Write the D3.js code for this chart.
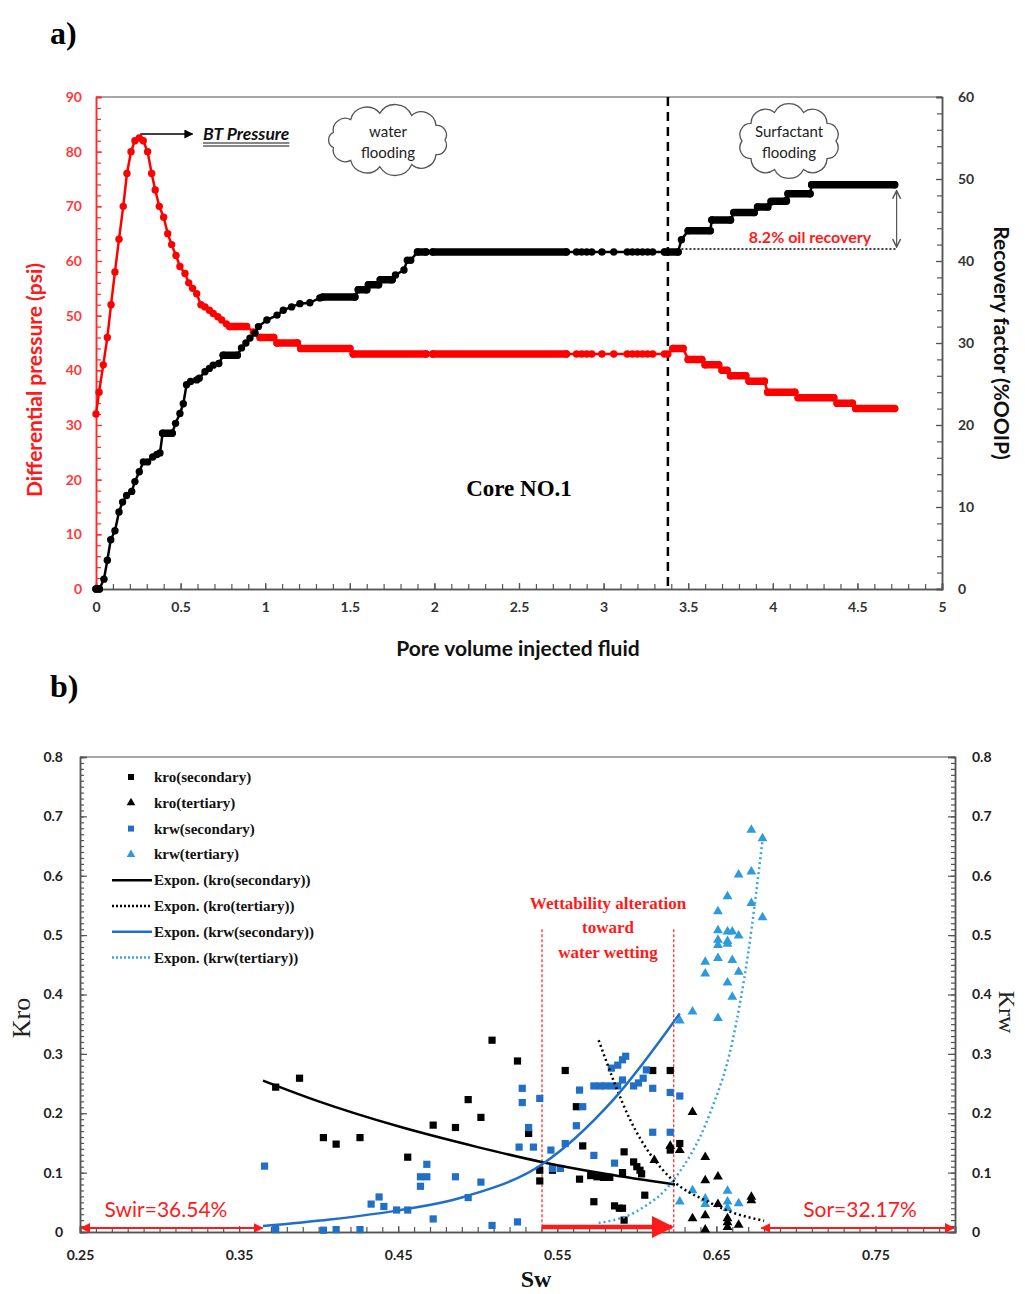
<!DOCTYPE html>
<html lang="en">
<head>
<meta charset="utf-8" />
<title>Core NO.1 flooding and relative permeability</title>
<script src="https://cdn.jsdelivr.net/npm/d3@7"></script>
<style>
body { margin: 0; background: white; }
.tick text { font-family: Lato, "Open Sans", sans-serif; font-weight: bold; font-size: 14px; }
</style>
</head>
<body>
<div id="chart"></div>
<script>

// ---------------- data, panel a) ----------------
// differential pressure (psi) vs pore volume injected
var dpPoints = [[0,32],[0.018,36],[0.043,41],[0.067,46],[0.089,52],[0.112,58],[0.136,64],[0.161,70],[0.183,76],[0.207,80],
  [0.23,82],[0.256,82.5],[0.279,82],[0.305,80],[0.329,76],[0.35,73],[0.374,70],[0.4,68],[0.424,65],[0.447,63],
  [0.473,61],[0.496,59],[0.526,57.7],[0.548,56],[0.571,55],[0.595,54],[0.62,52],[0.644,51.6],[0.67,51],[0.693,50.4],
  [0.72,49.8],[0.743,49.2],[0.77,48.5],[0.79,48],[0.89,48],[0.93,47],[0.97,46],[1.05,46],[1.07,45],[1.19,45],
  [1.21,44],[1.5,44],[1.52,43],[1.95,43],[1.99,43],[2.78,43],[2.84,43],[2.87,43],[2.9,43],[2.93,43],
  [2.99,43],[3.06,43],[3.14,43],[3.17,43],[3.2,43],[3.23,43],[3.26,43],[3.29,43],[3.36,43],[3.38,43],
  [3.41,44],[3.47,44],[3.5,42],[3.58,42],[3.6,41],[3.68,41],[3.7,40],[3.73,40],[3.75,39],[3.84,39],
  [3.86,38],[3.95,38],[3.97,36],[4.13,36],[4.15,35],[4.36,35],[4.38,34],[4.47,34],[4.49,33],[4.72,33]];
// runs of closely spaced readings [pv from, pv to, psi]
var dpRuns = [[0.79,0.89,48],[0.97,1.05,46],[1.07,1.19,45],[1.21,1.5,44],[1.52,1.95,43],[1.99,2.78,43],
  [3.41,3.47,44],[3.5,3.58,42],[3.6,3.68,41],[3.7,3.73,40],[3.75,3.84,39],[3.86,3.95,38],[3.97,4.13,36],
  [4.15,4.36,35],[4.38,4.47,34],[4.49,4.72,33]];

// recovery factor (%OOIP) vs pore volume injected
var rfPoints = [[0,0],[0.02,0],[0.047,1.2],[0.067,3.5],[0.087,6],[0.112,7.1],[0.136,9.4],[0.157,10.6],[0.181,11.4],[0.211,11.9],
  [0.23,13.1],[0.256,14.3],[0.28,15.5],[0.305,15.5],[0.335,16.1],[0.36,16.4],[0.378,16.6],[0.394,19],[0.45,19],[0.47,20.2],
  [0.496,21.4],[0.516,22.6],[0.535,24.9],[0.559,25.3],[0.595,25.5],[0.61,25.7],[0.644,26.5],[0.67,26.9],[0.693,27.3],[0.726,27.5],
  [0.752,28.5],[0.835,28.5],[0.86,29.4],[0.886,30],[0.91,30.6],[0.94,31.2],[0.96,32],[1.01,32.8],[1.07,33.4],[1.107,34],
  [1.156,34.4],[1.205,34.8],[1.264,34.9],[1.323,35.5],[1.34,35.6],[1.53,35.6],[1.55,36.5],[1.6,36.5],[1.61,37.1],[1.67,37.1],
  [1.68,37.7],[1.75,37.7],[1.77,38.3],[1.82,38.9],[1.84,40.1],[1.86,40.1],[1.9,41.1],[1.95,41.1],[1.99,41.1],[2.78,41.1],
  [2.84,41.1],[2.87,41.1],[2.9,41.1],[2.93,41.1],[2.99,41.1],[3.06,41.1],[3.14,41.1],[3.17,41.1],[3.2,41.1],[3.23,41.1],
  [3.26,41.1],[3.29,41.1],[3.36,41.1],[3.44,41.1],[3.46,42.6],[3.5,43.7],[3.63,43.7],[3.64,45],[3.75,45],[3.77,45.9],
  [3.89,45.9],[3.91,46.6],[3.97,46.6],[3.99,47.2],[4.08,47.4],[4.09,48.2],[4.22,48.2],[4.23,49.3],[4.72,49.3]];
var rfRuns = [[0,0.02,0],[0.394,0.45,19],[0.752,0.835,28.5],[1.34,1.53,35.6],[1.55,1.6,36.5],[1.61,1.67,37.1],
  [1.68,1.75,37.7],[1.9,1.95,41.1],[1.99,2.78,41.1],[3.36,3.44,41.1],[3.5,3.63,43.7],[3.64,3.75,45],[3.77,3.89,45.9],
  [3.91,3.97,46.6],[3.99,4.08,47.3],[4.09,4.22,48.2],[4.23,4.72,49.3]];

var pvTicks = [0,0.5,1,1.5,2,2.5,3,3.5,4,4.5,5];
var dpTicks = [0,10,20,30,40,50,60,70,80,90];
var rfTicks = [0,10,20,30,40,50,60];
var surfactantPV = 3.38;     // start of surfactant flooding
var rfBeforeSurf = 41.1, rfFinal = 49.3, pvFinal = 4.72;

// ---------------- data, panel b) ----------------
var kroSec = [[0.373,0.244],[0.388,0.259],[0.403,0.159],[0.411,0.148],[0.426,0.159],[0.456,0.126],[0.472,0.180],[0.486,0.176],
  [0.494,0.223],[0.502,0.193],[0.509,0.323],[0.525,0.288],[0.532,0.166],[0.539,0.104],[0.539,0.086],[0.547,0.104],[0.555,0.272],
  [0.562,0.211],[0.566,0.145],[0.564,0.089],[0.573,0.051],[0.571,0.095],[0.575,0.093],[0.579,0.092],[0.583,0.092],[0.586,0.044],
  [0.589,0.040],[0.591,0.040],[0.592,0.020],[0.591,0.100],[0.592,0.135],[0.598,0.118],[0.600,0.110],[0.602,0.104],[0.603,0.098],
  [0.605,0.062],[0.610,0.272],[0.621,0.272],[0.621,0.138],[0.627,0.149]];
var kroTer = [[0.611,0.121],[0.621,0.145],[0.627,0.138],[0.635,0.202],[0.635,0.023],[0.643,0.126],[0.643,0.087],[0.643,0.028],
  [0.643,0.004],[0.651,0.093],[0.651,0.047],[0.657,0.023],[0.657,0.016],[0.657,0.008],[0.664,0.012],[0.672,0.059],[0.672,0.053]];
var krwSec = [[0.366,0.111],[0.373,0.004],[0.403,0.003],[0.411,0.004],[0.426,0.004],[0.433,0.047],[0.438,0.059],[0.441,0.043],
  [0.449,0.037],[0.456,0.037],[0.464,0.093],[0.468,0.093],[0.468,0.114],[0.464,0.077],[0.472,0.022],[0.486,0.093],[0.494,0.058],
  [0.502,0.084],[0.509,0.011],[0.525,0.017],[0.526,0.143],[0.528,0.242],[0.528,0.218],[0.532,0.176],[0.535,0.143],[0.539,0.225],
  [0.546,0.138],[0.547,0.107],[0.552,0.107],[0.555,0.149],[0.562,0.179],[0.564,0.239],[0.566,0.211],[0.573,0.129],[0.573,0.246],
  [0.577,0.246],[0.580,0.246],[0.584,0.246],[0.588,0.246],[0.584,0.276],[0.588,0.281],[0.591,0.290],[0.593,0.296],[0.591,0.256],
  [0.586,0.116],[0.598,0.246],[0.601,0.251],[0.604,0.259],[0.606,0.273],[0.610,0.242],[0.610,0.168],[0.621,0.235],[0.621,0.168],
  [0.627,0.229]];
var krwTer = [[0.672,0.677],[0.679,0.663],[0.664,0.602],[0.672,0.607],[0.657,0.565],[0.651,0.540],[0.672,0.554],[0.679,0.530],
  [0.651,0.508],[0.657,0.506],[0.660,0.506],[0.651,0.492],[0.651,0.483],[0.657,0.490],[0.657,0.485],[0.664,0.499],[0.643,0.455],
  [0.651,0.461],[0.660,0.458],[0.643,0.435],[0.664,0.438],[0.657,0.420],[0.660,0.396],[0.635,0.371],[0.627,0.356],[0.651,0.360],
  [0.635,0.070],[0.627,0.051],[0.643,0.056],[0.643,0.047],[0.657,0.069],[0.657,0.051],[0.657,0.040],[0.664,0.048]];

// exponential trend lines
var kroSecTrend = [[0.365,0.255],[0.40,0.220],[0.45,0.178],[0.50,0.143],[0.54,0.118],[0.58,0.098],[0.624,0.080]];
var kroTerTrend = [[0.576,0.323],[0.596,0.188],[0.623,0.086],[0.644,0.052],[0.66,0.033],[0.68,0.019]];
var krwSecTrend = [[0.365,0.010],[0.407,0.021],[0.449,0.036],[0.491,0.059],[0.541,0.115],[0.585,0.222],[0.627,0.368]];
var krwTerTrend = [[0.576,0.015],[0.60,0.035],[0.623,0.087],[0.646,0.20],[0.66,0.32],[0.67,0.47],[0.679,0.66]];

var swTicks = [0.25,0.35,0.45,0.55,0.65,0.75];
var kTicks = [0,0.1,0.2,0.3,0.4,0.5,0.6,0.7,0.8];
var swir = 0.3654, sor = 0.3217;
var wetFrom = 0.5404, wetTo = 0.6232;

var legendNames = ["kro(secondary)","kro(tertiary)","krw(secondary)","krw(tertiary)",
  "Expon. (kro(secondary))","Expon. (kro(tertiary))","Expon. (krw(secondary))","Expon. (krw(tertiary))"];

// ---------------- drawing ----------------
var svg = d3.select("#chart").append("svg").attr("width", 1025).attr("height", 1294)
  .style("font-family", "Lato, 'Open Sans', sans-serif");
var fmt = d3.format("~g");

var defs = svg.append("defs");
function marker(id, color, size, open) {
  var m = defs.append("marker").attr("id", id).attr("viewBox", "0 0 10 10")
    .attr("refX", 9).attr("refY", 5).attr("markerUnits", "userSpaceOnUse")
    .attr("markerWidth", size).attr("markerHeight", size).attr("orient", "auto-start-reverse");
  if (open) m.append("path").attr("d", "M1,1 L9,5 L1,9").attr("fill", "none").attr("stroke", color).attr("stroke-width", 1.5);
  else m.append("path").attr("d", "M0,0 L10,5 L0,10 Z").attr("fill", color);
}
marker("arrBlack", "#000", 9);
marker("arrGray", "#555", 10, true);
marker("arrRed", "#ff1a1a", 10);
marker("arrRedBig", "#ff1a1a", 22);

function styleAxis(g, color, labelColor) {
  g.select(".domain").attr("stroke", color).attr("stroke-width", 1.5);
  g.selectAll(".tick line").attr("stroke", color).attr("stroke-width", 1.2);
  g.selectAll(".tick text").attr("fill", labelColor);
}

function cloud(g, cx, cy, rx, ry, n) {
  var pts = d3.range(n).map(function(i) {
    var a = i / n * 2 * Math.PI;
    return [cx + rx * Math.cos(a), cy + ry * Math.sin(a)];
  });
  var p = "M" + pts[0];
  pts.forEach(function(pt, i) {
    var q = pts[(i + 1) % n];
    var r = Math.hypot(q[0] - pt[0], q[1] - pt[1]) * 0.56;
    p += "A" + r + "," + r + " 0 0,1 " + q;
  });
  g.append("path").attr("d", p + "Z").attr("fill", "white").attr("stroke", "#555").attr("stroke-width", 1.3);
}

// ===== panel a) =====
var xA = d3.scaleLinear().domain([0, 5]).range([96, 942]);
var yDP = d3.scaleLinear().domain([0, 90]).range([589, 97]);
var yRF = d3.scaleLinear().domain([0, 60]).range([589, 97]);

var gA = svg.append("g");

gA.append("line").attr("x1", xA(0)).attr("x2", xA(5)).attr("y1", yDP(90)).attr("y2", yDP(90))
  .attr("stroke", "#888").attr("stroke-width", 1.5);

// x axis: minor ticks every 0.1 then labelled ticks
gA.append("g").attr("transform", "translate(0,589)")
  .call(d3.axisBottom(xA).tickValues(d3.range(51).map(function(i) { return i / 10; })).tickSize(-5).tickFormat(""))
  .call(styleAxis, "#555", "#333");
gA.append("g").attr("transform", "translate(0,589)")
  .call(d3.axisBottom(xA).tickValues(pvTicks).tickSize(-6).tickPadding(13).tickFormat(fmt))
  .call(styleAxis, "#555", "#333");

gA.append("g").attr("transform", "translate(96,0)")
  .call(d3.axisLeft(yDP).tickValues(d3.range(46).map(function(i) { return i * 2; })).tickSize(-5).tickFormat(""))
  .call(styleAxis, "#ff2a2a", "#ff2a2a");
gA.append("g").attr("transform", "translate(96,0)")
  .call(d3.axisLeft(yDP).tickValues(dpTicks).tickSize(-6).tickPadding(14).tickFormat(fmt))
  .call(styleAxis, "#ff2a2a", "#ff3a3a");

gA.append("g").attr("transform", "translate(942,0)")
  .call(d3.axisRight(yRF).tickValues(d3.range(31).map(function(i) { return i * 2; })).tickSize(-5).tickFormat(""))
  .call(styleAxis, "#555", "#333");
gA.append("g").attr("transform", "translate(942,0)")
  .call(d3.axisRight(yRF).tickValues(rfTicks).tickSize(-6).tickPadding(16).tickFormat(fmt))
  .call(styleAxis, "#555", "#333");

// surfactant start line
gA.append("line").attr("x1", xA(surfactantPV)).attr("x2", xA(surfactantPV)).attr("y1", yDP(90)).attr("y2", 592)
  .attr("stroke", "#000").attr("stroke-width", 2.5).attr("stroke-dasharray", "9,6");

function drawFlood(g, pts, runs, y, color) {
  var line = d3.line().x(function(d) { return xA(d[0]); }).y(function(d) { return y(d[1]); });
  g.append("path").attr("d", line(pts)).attr("fill", "none").attr("stroke", color).attr("stroke-width", 2.5);
  g.selectAll(null).data(runs).enter().append("line")
    .attr("x1", function(d) { return xA(d[0]); }).attr("x2", function(d) { return xA(d[1]); })
    .attr("y1", function(d) { return y(d[2]); }).attr("y2", function(d) { return y(d[2]); })
    .attr("stroke", color).attr("stroke-width", 7.5).attr("stroke-linecap", "round");
  g.selectAll(null).data(pts).enter().append("circle")
    .attr("cx", function(d) { return xA(d[0]); }).attr("cy", function(d) { return y(d[1]); })
    .attr("r", 3.7).attr("fill", color);
}
drawFlood(gA.append("g"), dpPoints, dpRuns, yDP, "#ff0000");
drawFlood(gA.append("g"), rfPoints, rfRuns, yRF, "#000");

// 8.2% annotation
gA.append("line").attr("x1", xA(3.46)).attr("x2", xA(pvFinal) + 2).attr("y1", yRF(rfBeforeSurf) - 3).attr("y2", yRF(rfBeforeSurf) - 3)
  .attr("stroke", "#000").attr("stroke-width", 1.5).attr("stroke-dasharray", "2,2");
gA.append("line").attr("x1", xA(pvFinal) + 2).attr("x2", xA(pvFinal) + 2).attr("y1", yRF(rfFinal) + 6).attr("y2", yRF(rfBeforeSurf) - 5)
  .attr("stroke", "#555").attr("stroke-width", 1.2)
  .attr("marker-start", "url(#arrGray)").attr("marker-end", "url(#arrGray)");
gA.append("text").attr("x", 810).attr("y", 243).attr("text-anchor", "middle")
  .attr("fill", "#ff1a1a").style("font-size", "16px").style("font-weight", "bold").text("8.2% oil recovery");

// BT pressure
gA.append("line").attr("x1", xA(0.262)).attr("x2", xA(0.57)).attr("y1", 134).attr("y2", 134)
  .attr("stroke", "#000").attr("stroke-width", 1.5).attr("marker-end", "url(#arrBlack)");
var bt = gA.append("text").attr("x", 203).attr("y", 140).style("font-size", "17.5px")
  .style("font-weight", "bold").style("font-style", "italic").attr("fill", "#111").text("BT Pressure");
var btW = bt.node().getComputedTextLength();
[143, 146].forEach(function(yy) {
  gA.append("line").attr("x1", 203).attr("x2", 203 + btW).attr("y1", yy).attr("y2", yy).attr("stroke", "#111").attr("stroke-width", 1);
});

// clouds
cloud(gA, 388, 140, 57, 27, 11);
cloud(gA, 789, 141, 47, 30, 10);
[["water", 388, 137], ["flooding", 388, 158], ["Surfactant", 789, 137], ["flooding", 789, 158]].forEach(function(t) {
  gA.append("text").attr("x", t[1]).attr("y", t[2]).attr("text-anchor", "middle")
    .style("font-size", "15px").attr("fill", "#222").text(t[0]);
});

gA.append("text").attr("x", 519).attr("y", 496).attr("text-anchor", "middle")
  .style("font-family", "'Liberation Serif', 'DejaVu Serif', serif").style("font-weight", "bold").style("font-size", "23px")
  .text("Core NO.1");

gA.append("text").attr("transform", "translate(42,380) rotate(-90)").attr("text-anchor", "middle")
  .attr("fill", "#ff1a1a").style("font-size", "21px").style("font-weight", "bold").text("Differential pressure (psi)");
gA.append("text").attr("transform", "translate(994,343) rotate(90)").attr("text-anchor", "middle")
  .attr("fill", "#111").style("font-size", "21px").style("font-weight", "bold").text("Recovery factor (%OOIP)");
gA.append("text").attr("x", 518).attr("y", 656).attr("text-anchor", "middle")
  .attr("fill", "#111").style("font-size", "21px").style("font-weight", "bold").text("Pore volume injected fluid");

svg.append("text").attr("x", 50).attr("y", 44).style("font-family", "'Liberation Serif', serif")
  .style("font-weight", "bold").style("font-size", "32px").text("a)");
svg.append("text").attr("x", 50).attr("y", 697).style("font-family", "'Liberation Serif', serif")
  .style("font-weight", "bold").style("font-size", "32px").text("b)");

// ===== panel b) =====
var xS = d3.scaleLinear().domain([0.25, 0.8]).range([80, 955]);
var yK = d3.scaleLinear().domain([0, 0.8]).range([1232, 757]);
var gB = svg.append("g");

gB.append("line").attr("x1", xS(0.25)).attr("x2", xS(0.8)).attr("y1", yK(0.8)).attr("y2", yK(0.8))
  .attr("stroke", "#888").attr("stroke-width", 1.5);

gB.append("g").attr("transform", "translate(0,1232)")
  .call(d3.axisBottom(xS).tickValues(d3.range(56).map(function(i) { return 0.25 + i / 100; })).tickSize(-5).tickFormat(""))
  .call(styleAxis, "#555", "#222");
gB.append("g").attr("transform", "translate(0,1232)")
  .call(d3.axisBottom(xS).tickValues(swTicks).tickSize(-6).tickPadding(18).tickFormat(fmt))
  .call(styleAxis, "#555", "#222");
[["axisLeft", 80], ["axisRight", 955]].forEach(function(a) {
  gB.append("g").attr("transform", "translate(" + a[1] + ",0)")
    .call(d3[a[0]](yK).tickValues(d3.range(81).map(function(i) { return i / 100; })).tickSize(-4).tickFormat(""))
    .call(styleAxis, "#555", "#222");
  gB.append("g").attr("transform", "translate(" + a[1] + ",0)")
    .call(d3[a[0]](yK).tickValues(kTicks).tickSize(-7).tickPadding(17).tickFormat(fmt))
    .call(styleAxis, "#555", "#222");
});

// wettability alteration guides
[wetFrom, wetTo].forEach(function(s) {
  gB.append("line").attr("x1", xS(s)).attr("x2", xS(s)).attr("y1", yK(0.51)).attr("y2", yK(0))
    .attr("stroke", "#ff3030").attr("stroke-width", 1.3).attr("stroke-dasharray", "3,2");
});

var sq = d3.symbol(d3.symbolSquare, 52), tri = d3.symbol(d3.symbolTriangle, 42);
function scatter(data, sym, color) {
  gB.append("g").selectAll("path").data(data).enter().append("path")
    .attr("d", sym).attr("fill", color)
    .attr("transform", function(d) { return "translate(" + xS(d[0]) + "," + yK(d[1]) + ")"; });
}
scatter(kroSec, sq, "#000");
scatter(kroTer, tri, "#000");
scatter(krwSec, sq, "#2270c6");
scatter(krwTer, tri, "#2d9bdb");

function trend(data, color, dash) {
  gB.append("path").datum(data)
    .attr("d", d3.line().curve(d3.curveMonotoneX).x(function(d) { return xS(d[0]); }).y(function(d) { return yK(d[1]); }))
    .attr("fill", "none").attr("stroke", color).attr("stroke-width", 2.5)
    .attr("stroke-dasharray", dash || null);
}
trend(kroSecTrend, "#000");
trend(kroTerTrend, "#000", "2,3");
trend(krwSecTrend, "#1f6fc8");
trend(krwTerTrend, "#38a4e4", "2,3");

// saturation end-point arrows
gB.append("line").attr("x1", xS(0.25) + 1).attr("x2", xS(swir) - 1).attr("y1", 1228).attr("y2", 1228)
  .attr("stroke", "#ff1a1a").attr("stroke-width", 1.8)
  .attr("marker-start", "url(#arrRed)").attr("marker-end", "url(#arrRed)");
gB.append("line").attr("x1", xS(1 - sor)).attr("x2", xS(0.8) - 1).attr("y1", 1228).attr("y2", 1228)
  .attr("stroke", "#ff1a1a").attr("stroke-width", 1.8)
  .attr("marker-start", "url(#arrRed)").attr("marker-end", "url(#arrRed)");
gB.append("line").attr("x1", xS(wetFrom)).attr("x2", xS(wetTo) - 2).attr("y1", 1227).attr("y2", 1227)
  .attr("stroke", "#ff1a1a").attr("stroke-width", 4.5).attr("marker-end", "url(#arrRedBig)");

gB.append("text").attr("x", 166).attr("y", 1217).attr("text-anchor", "middle").attr("fill", "#ff1a1a")
  .style("font-size", "21px").text("Swir=36.54%");
gB.append("text").attr("x", 860).attr("y", 1217).attr("text-anchor", "middle").attr("fill", "#ff1a1a")
  .style("font-size", "21px").text("Sor=32.17%");

[["Wettability alteration", 909], ["toward", 933], ["water wetting", 958]].forEach(function(t) {
  gB.append("text").attr("x", 608).attr("y", t[1]).attr("text-anchor", "middle").attr("fill", "#ff1a1a")
    .style("font-family", "'Liberation Serif', serif").style("font-weight", "bold").style("font-size", "17px").text(t[0]);
});

// legend
var lg = gB.append("g");
var legendStyle = [
  {sym: sq, color: "#000"}, {sym: tri, color: "#000"}, {sym: sq, color: "#2270c6"}, {sym: tri, color: "#2d9bdb"},
  {line: "#000"}, {line: "#000", dash: "2,2"}, {line: "#1f6fc8"}, {line: "#38a4e4", dash: "2,2"}];
legendNames.forEach(function(name, i) {
  var y = 777 + i * 25.8;
  var s = legendStyle[i];
  if (s.sym) {
    lg.append("path").attr("d", s.sym === sq ? d3.symbol(d3.symbolSquare, 36)() : d3.symbol(d3.symbolTriangle, 32)())
      .attr("fill", s.color).attr("transform", "translate(131," + y + ")");
  } else {
    lg.append("line").attr("x1", 112).attr("x2", 152).attr("y1", y).attr("y2", y)
      .attr("stroke", s.line).attr("stroke-width", 2.5).attr("stroke-dasharray", s.dash || null);
  }
  lg.append("text").attr("x", 154).attr("y", y + 5).style("font-family", "'Liberation Serif', serif")
    .style("font-weight", "bold").style("font-size", "15px").attr("fill", "#111").text(name);
});

gB.append("text").attr("transform", "translate(30,1018) rotate(-90)").attr("text-anchor", "middle")
  .style("font-family", "'Liberation Serif', serif").style("font-size", "26px").attr("fill", "#222").text("Kro");
gB.append("text").attr("transform", "translate(999,1012) rotate(90)").attr("text-anchor", "middle")
  .style("font-family", "'Liberation Serif', serif").style("font-size", "24px").attr("fill", "#222").text("Krw");
gB.append("text").attr("x", 536).attr("y", 1287).attr("text-anchor", "middle")
  .style("font-family", "'Liberation Serif', serif").style("font-weight", "bold").style("font-size", "24px").attr("fill", "#111").text("Sw");

</script>
</body>
</html>
